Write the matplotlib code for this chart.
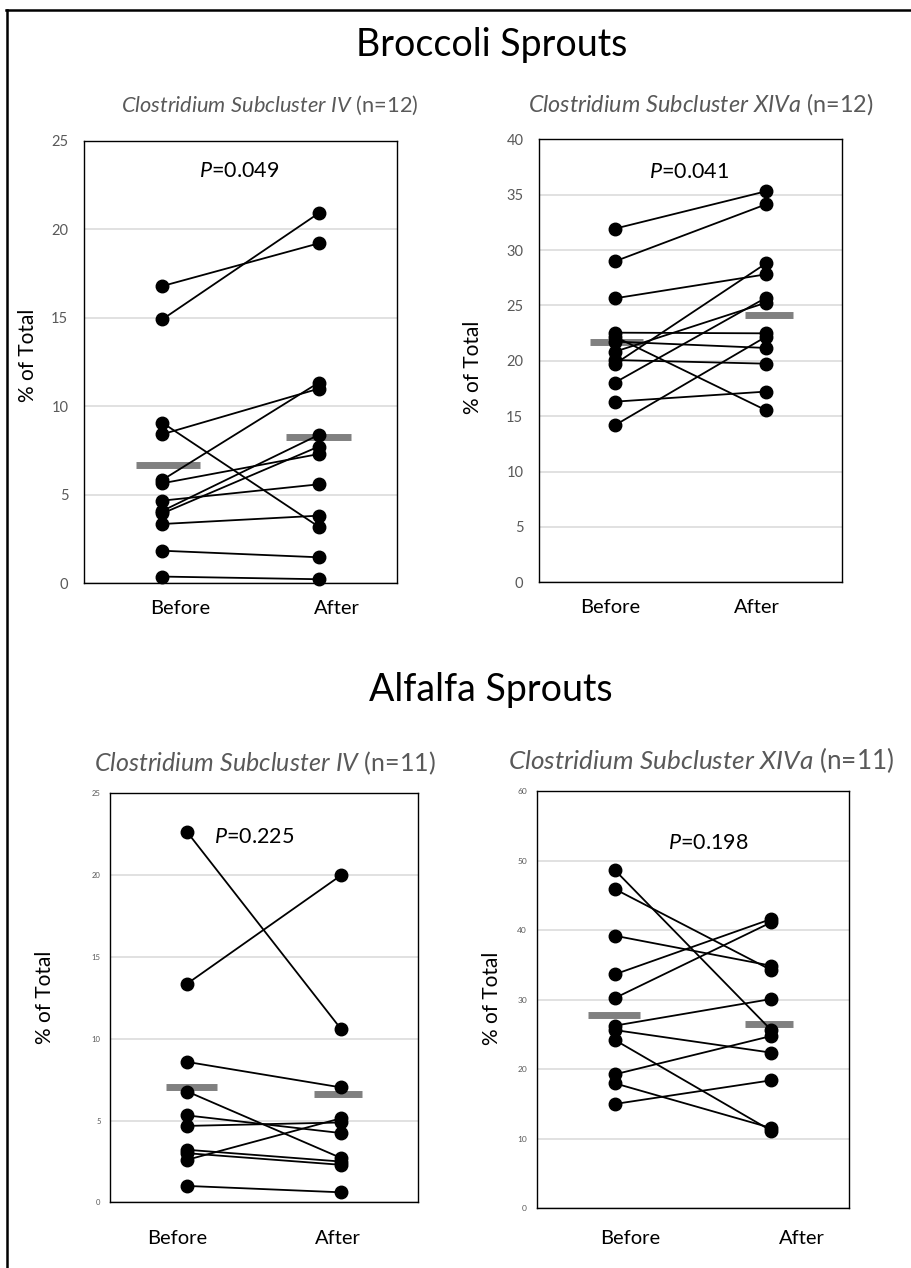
import matplotlib
matplotlib.use('Agg')
import matplotlib.pyplot as plt
from matplotlib.lines import Line2D

plt.rcParams['font.family'] = ['Lato', 'DejaVu Sans']
plt.rcParams['mathtext.fontset'] = 'custom'
plt.rcParams['mathtext.rm'] = 'Lato'
plt.rcParams['mathtext.it'] = 'Lato:italic'

W, H = 911, 1268

groups = ['Before', 'After']

# --- Broccoli sprouts, Clostridium subcluster IV ---
broc_iv_before = [16.79, 14.91, 9.07, 8.42, 5.84, 5.65, 4.67, 4.09, 3.95, 3.35, 1.84, 0.38]
broc_iv_after = [19.20, 20.90, 3.20, 10.99, 11.33, 7.30, 5.59, 8.38, 7.72, 3.82, 1.47, 0.23]
broc_iv_mean = [6.68, 8.25]

# --- Broccoli sprouts, Clostridium subcluster XIVa ---
broc_xiva_before = [31.93, 28.98, 25.64, 22.54, 22.18, 21.73, 20.82, 20.07, 19.71, 18.03, 16.31, 14.18]
broc_xiva_after = [35.31, 34.13, 27.81, 22.48, 15.53, 21.16, 25.25, 19.74, 28.80, 25.70, 17.22, 22.18]
broc_xiva_mean = [21.73, 24.17]

# --- Alfalfa sprouts, Clostridium subcluster IV ---
alf_iv_before = [22.62, 13.37, 8.58, 6.77, 5.31, 4.67, 3.21, 3.00, 2.60, 1.00]
alf_iv_after = [10.57, 20.00, 7.02, 2.70, 4.23, 4.88, 2.49, 2.29, 5.14, 0.61]
alf_iv_mean = [7.03, 6.60]

# --- Alfalfa sprouts, Clostridium subcluster XIVa ---
alf_xiva_before = [48.63, 45.90, 39.19, 33.64, 30.23, 26.26, 25.63, 24.20, 19.26, 17.97, 15.00]
alf_xiva_after = [25.63, 34.26, 34.88, 41.59, 41.11, 30.09, 22.38, 11.16, 24.77, 11.55, 18.40]
alf_xiva_mean = [27.74, 26.50]

p_values = ['0.049', '0.041', '0.225', '0.198']

fig = plt.figure(figsize=(W / 100, H / 100), dpi=100)
fig.patch.set_facecolor('white')


def px_axes(l, t, r, b):
    return fig.add_axes([l / W, 1 - b / H, (r - l) / W, (b - t) / H])


def draw_panel(ax, before, after, means, ymax, ystep, pval, p_pos,
               bar_x, bar_w, label_x, label_dy, tick_fs, tick_pad):
    ax.set_xlim(0.5, 2.5)
    ax.set_ylim(0, ymax)
    ax.set_yticks(range(0, ymax + 1, ystep))
    ax.set_xticks([])
    ax.yaxis.grid(True, color='#d9d9d9', lw=1.1)
    ax.set_axisbelow(True)
    ax.tick_params(axis='y', length=0, pad=tick_pad, labelsize=tick_fs,
                   labelcolor='#595959')
    for s in ax.spines.values():
        s.set_linewidth(1.0)
        s.set_color('black')

    # mean bars
    for xc, w, m in zip(bar_x, bar_w, means):
        ax.plot([xc - w / 2, xc + w / 2], [m, m], color='#808080', lw=5,
                solid_capstyle='butt', zorder=2)

    # paired lines
    for b, a in zip(before, after):
        ax.plot([1, 2], [b, a], color='black', lw=1.3, zorder=3,
                marker='o', ms=9, mfc='black', mec='black', clip_on=False)

    ax.text(p_pos[0], p_pos[1], r'$P$=' + pval, transform=ax.transAxes,
            ha='center', va='center', fontsize=15.5)

    for lx, g in zip(label_x, groups):
        ax.annotate(g, xy=(lx, 0), xycoords='axes fraction',
                    xytext=(0, -label_dy), textcoords='offset points',
                    ha='center', va='center', fontsize=14.5)


ax1 = px_axes(84.3, 140.7, 396.7, 583.3)
draw_panel(ax1, broc_iv_before, broc_iv_after, broc_iv_mean, 25, 5, p_values[0],
           (0.497, 0.931), (1.036, 1.998), (0.41, 0.414), (0.306, 0.809), 18,
           10.5, 11.5)

ax2 = px_axes(539.3, 139.3, 841.7, 582.3)
draw_panel(ax2, broc_xiva_before, broc_xiva_after, broc_xiva_mean, 40, 5, p_values[1],
           (0.495, 0.927), (1.012, 2.018), (0.35, 0.315), (0.236, 0.719), 18,
           10.5, 11.5)

ax3 = px_axes(110.3, 793.3, 418.3, 1202.3)
draw_panel(ax3, alf_iv_before, alf_iv_after, alf_iv_mean, 25, 5, p_values[2],
           (0.468, 0.892), (1.026, 1.978), (0.333, 0.31), (0.218, 0.74), 26,
           5.5, 7)

ax4 = px_axes(536.7, 791, 849.3, 1208.3)
draw_panel(ax4, alf_xiva_before, alf_xiva_after, alf_xiva_mean, 60, 10, p_values[3],
           (0.548, 0.876), (0.995, 1.985), (0.33, 0.305), (0.298, 0.848), 21.6,
           6, 7)

# y labels
for x, y in [(28, 355), (473, 367), (45, 997), (492, 998)]:
    fig.text(x / W, 1 - y / H, '% of Total', rotation=90, ha='center', va='center',
             fontsize=15)

# section titles
fig.text(492 / W, 1 - 45 / H, 'Broccoli Sprouts', ha='center', va='center', fontsize=27)
fig.text(491 / W, 1 - 690 / H, 'Alfalfa Sprouts', ha='center', va='center', fontsize=27)

# panel subtitles
subs = [
    (270, 105, r'$Clostridium\ Subcluster\ IV$ (n=12)', 15.7),
    (701, 104, r'$Clostridium\ Subcluster\ XIVa$ (n=12)', 16.8),
    (265, 763, r'$Clostridium\ Subcluster\ IV$ (n=11)', 18),
    (701, 760, r'$Clostridium\ Subcluster\ XIVa$ (n=11)', 18.8),
]
for x, y, s, fs in subs:
    fig.text(x / W, 1 - y / H, s, ha='center', va='center', fontsize=fs,
             color='#595959')

# outer frame (top and left edges only)
fig.add_artist(Line2D([6 / W, 1], [1 - 10 / H, 1 - 10 / H], color='black', lw=1.8,
                      transform=fig.transFigure))
fig.add_artist(Line2D([6.5 / W, 6.5 / W], [1 - 10 / H, 0], color='black', lw=1.8,
                      transform=fig.transFigure))

fig.savefig('out.png', dpi=100, facecolor='white')
